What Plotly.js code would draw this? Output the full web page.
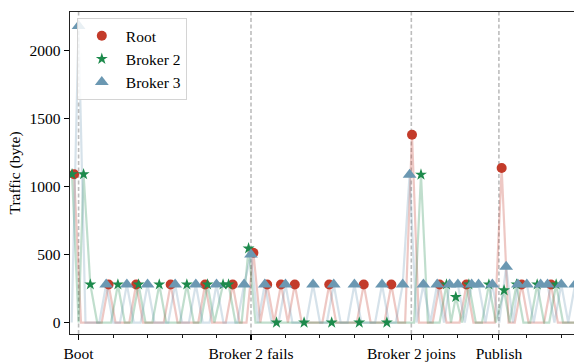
<!DOCTYPE html>
<html><head><meta charset="utf-8">
<script src="https://cdn.plot.ly/plotly-3.0.1.min.js"></script>
<style>html,body{margin:0;padding:0;background:#fff}#chart{width:574px;height:363px}</style>
</head><body><div id="chart"></div>
<script>
// Event markers on the time axis
const eventT = [0, 50, 96.5, 121.9];
const eventLabels = ['Boot', 'Broker 2 fails', 'Broker 2 joins', 'Publish'];

// Root: sampled traffic (time, bytes)
const rootT = [-1.3, 0.7, 6.7, 8.7, 10.7, 14.7, 16.7, 18.7, 24.7, 26.7, 28.7, 34.7, 36.7, 38.7, 42.7, 44.7, 46.7, 48.7, 50.7, 52.7, 54.7, 56.7, 58.7, 60.7, 62.7, 64.7, 70.7, 72.7, 74.7, 80.7, 82.7, 84.7, 88.7, 90.7, 92.7, 94.7, 96.7, 98.7, 102.7, 104.7, 106.7, 110.5, 112.5, 114.5, 120.7, 122.7, 124.7, 126.5, 128.5, 130.5, 135, 137, 139, 145];
const rootV = [1090, 0, 0, 280, 0, 0, 280, 0, 0, 280, 0, 0, 280, 0, 0, 280, 0, 0, 513, 0, 280, 0, 280, 0, 280, 0, 0, 280, 0, 0, 280, 0, 0, 280, 0, 0, 1380, 0, 0, 280, 0, 0, 280, 0, 0, 1136, 0, 0, 280, 0, 0, 280, 0, 0];

// Broker 2
const b2T = [-1.9, 0, 1.45, 3.4, 5.4, 9.4, 11.4, 13.4, 15.4, 17.4, 19.4, 21.4, 23.4, 25.4, 29.4, 31.4, 33.4, 35.4, 37.4, 39.4, 41.9, 43.5, 45.5, 47.3, 49.3, 51.3, 57.4, 65.4, 73.4, 81.4, 89.4, 97.3, 99.3, 101.3, 104.7, 106.7, 108, 109.4, 111.2, 113.2, 115.2, 117, 119, 121, 123.4, 125, 127, 129, 131, 133, 135, 136.5, 138.5, 140.5, 145];
const b2V = [1090, 0, 1090, 280, 0, 0, 280, 0, 0, 280, 0, 0, 280, 0, 0, 280, 0, 0, 280, 0, 280, 280, 0, 0, 545, 0, 0, 0, 0, 0, 0, 0, 1087, 0, 0, 280, 0, 188, 0, 280, 0, 0, 280, 0, 237, 0, 280, 0, 0, 280, 0, 0, 280, 0, 0];
// Broker 2 explicit zero reports while failed
const b2ZeroT = [57.4, 65.4, 73.4, 81.4, 89.4];

// Broker 3
const b3T = [-2, 0, 2, 6, 8, 10, 12, 14, 16, 18, 20, 22, 26, 28, 30, 32, 34, 36, 38, 40, 42, 46, 48, 50, 52, 54, 56, 58, 60, 62, 66, 68, 70, 72, 74, 76, 78, 80, 82, 86, 88, 90, 92, 94, 96, 98, 100, 102, 104, 106, 107.6, 110, 112, 114, 116, 118, 120, 122, 124, 126, 127.4, 130, 132, 134, 136, 138, 140, 142, 144];
const b3V = [0, 2180, 0, 0, 280, 0, 0, 280, 0, 0, 280, 0, 0, 280, 0, 0, 280, 0, 0, 280, 0, 0, 280, 500, 0, 280, 0, 0, 280, 0, 0, 280, 0, 0, 280, 0, 0, 280, 0, 0, 280, 0, 0, 280, 1087, 0, 280, 0, 280, 0, 280, 280, 0, 280, 280, 0, 280, 0, 410, 0, 280, 280, 0, 280, 280, 0, 280, 0, 280];

const yTicks = [0, 500, 1000, 1500, 2000];

const C = {
  root: {m: '#c33b2a', l: 'rgba(195,59,42,0.28)'},
  b2: {m: '#1d8a4c', l: 'rgba(29,138,76,0.28)'},
  b3: {m: '#6b98b2', l: 'rgba(107,152,178,0.28)'}
};
const FONT = '"Liberation Serif", serif';

function pick(t, v, extra) {
  const xs = [], ys = [];
  t.forEach((x, i) => { if (v[i] > 0 || (extra && extra.includes(x))) { xs.push(x); ys.push(v[i]); } });
  return {xs, ys};
}
function lineTrace(t, v, col) {
  return {x: t, y: v, mode: 'lines', line: {color: col, width: 2.2}, showlegend: false, hoverinfo: 'skip'};
}
const rM = pick(rootT, rootV), b2M = pick(b2T, b2V, b2ZeroT), b3M = pick(b3T, b3V);

const data = [
  lineTrace(rootT, rootV, C.root.l),
  lineTrace(b2T, b2V, C.b2.l),
  lineTrace(b3T, b3V, C.b3.l),
  {x: rM.xs, y: rM.ys, mode: 'markers', name: 'Root', marker: {symbol: 'circle', size: 10, color: C.root.m}},
  {x: b2M.xs, y: b2M.ys, mode: 'markers', name: 'Broker 2', marker: {symbol: 'star', size: 9, color: C.b2.m}},
  {x: b3M.xs, y: b3M.ys, mode: 'markers', name: 'Broker 3', marker: {symbol: 'triangle-up', size: 12, color: C.b3.m}}
];

const shapes = eventT.map(x => ({type: 'line', xref: 'x', yref: 'paper', x0: x, x1: x, y0: 0, y1: 1,
  line: {color: '#bdbdbd', width: 1.6, dash: '4px,2.5px'}, layer: 'below'}));

const layout = {
  width: 574, height: 363,
  margin: {l: 70, r: 0, t: 12, b: 28.5},
  paper_bgcolor: '#fff', plot_bgcolor: '#fff',
  font: {family: FONT, size: 15.5, color: '#000'},
  showlegend: true,
  legend: {x: 0.0135, y: 0.981, xanchor: 'left', yanchor: 'top', bgcolor: 'rgba(255,255,255,0.85)',
    bordercolor: '#d4d4d4', borderwidth: 1, font: {family: FONT, size: 15.5}, itemwidth: 38, tracegroupgap: 0},
  xaxis: {range: [-2.49, 143.68], tickmode: 'array', tickvals: eventT, ticktext: eventLabels,
    ticks: 'outside', ticklen: 5, tickwidth: 1.1, tickcolor: '#000', showgrid: false, zeroline: false,
    showline: true, linecolor: '#222', linewidth: 1.3, mirror: true,
    tickfont: {family: FONT, size: 15.5},
    minor: {tickmode: 'linear', tick0: 0, dtick: 10, ticks: 'outside', ticklen: 3, tickwidth: 0.9, tickcolor: '#000', showgrid: false}},
  yaxis: {range: [-84, 2282], tickmode: 'array', tickvals: yTicks, ticks: 'outside', ticklen: 5, tickwidth: 1.1, tickcolor: '#000',
    showgrid: false, zeroline: false, showline: true, linecolor: '#222', linewidth: 1.3,
    tickfont: {family: FONT, size: 15.5},
    title: {text: 'Traffic (byte)', font: {family: FONT, size: 15.5}, standoff: 5}},
  shapes: shapes
};
Plotly.newPlot('chart', data, layout, {displayModeBar: false, staticPlot: true});
</script></body></html>
